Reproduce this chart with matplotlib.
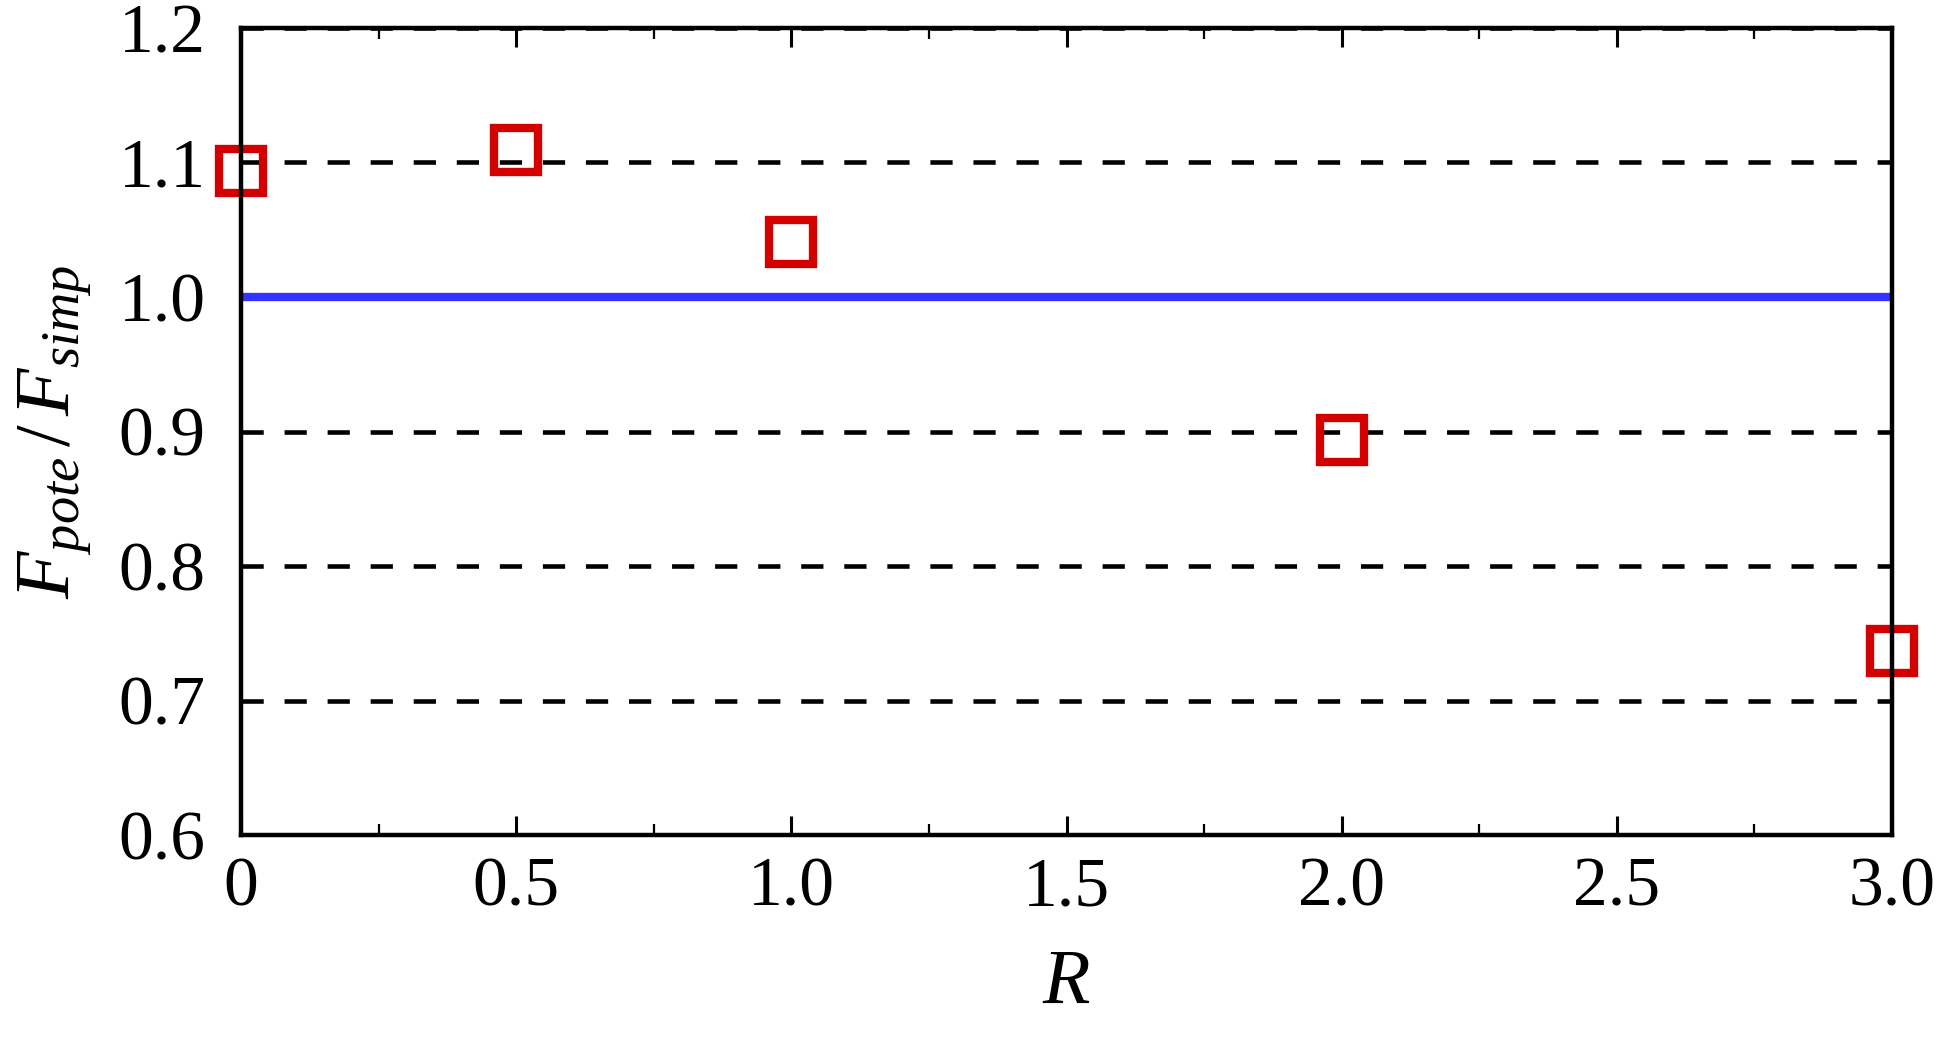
import matplotlib
matplotlib.use("Agg")
import matplotlib.pyplot as plt
from matplotlib.ticker import MultipleLocator, FixedLocator

# Data
R_values = [0.0, 0.5, 1.0, 2.0, 3.0]
ratio_values = [1.094, 1.109, 1.041, 0.894, 0.737]
ref_R = [0.0, 3.0]
ref_ratio = [1.0, 1.0]
grid_levels = [0.7, 0.8, 0.9, 1.0, 1.1, 1.2]
x_ticks = [0, 0.5, 1.0, 1.5, 2.0, 2.5, 3.0]
x_ticklabels = ["0", "0.5", "1.0", "1.5", "2.0", "2.5", "3.0"]
y_ticks = [0.6, 0.7, 0.8, 0.9, 1.0, 1.1, 1.2]
y_ticklabels = ["0.6", "0.7", "0.8", "0.9", "1.0", "1.1", "1.2"]

plt.rcParams['font.family'] = ['Liberation Serif', 'DejaVu Serif']
plt.rcParams['mathtext.fontset'] = 'custom'
plt.rcParams['mathtext.rm'] = 'Liberation Serif'
plt.rcParams['mathtext.it'] = 'Liberation Serif:italic'
plt.rcParams['lines.scale_dashes'] = False

fig = plt.figure(figsize=(19.37, 10.37), dpi=100)
ax = fig.add_axes([241/1937, 1 - 835/1037, (1892-241)/1937, (835-28)/1037])

for lv in grid_levels:
    ax.axhline(lv, color='black', lw=3.3, dashes=(16, 15), zorder=1)

ax.plot(ref_R, ref_ratio, color='#3333FF', lw=6, zorder=1.5, solid_capstyle='butt')

ax.plot(R_values, ratio_values, linestyle='none', marker='s', markersize=31,
        markerfacecolor='none', markeredgecolor='#D40000', markeredgewidth=6,
        clip_on=False, zorder=2)

ax.set_xlim(0, 3.0)
ax.set_ylim(0.6, 1.2)

ax.xaxis.set_major_locator(FixedLocator(x_ticks))
ax.set_xticklabels(x_ticklabels)
ax.xaxis.set_minor_locator(MultipleLocator(0.25))
ax.set_yticks(y_ticks)
ax.set_yticklabels(y_ticklabels)

ax.tick_params(axis='x', which='major', direction='in', top=True, bottom=True,
               length=14, width=2.2, labelsize=50, pad=16)
ax.tick_params(axis='x', which='minor', direction='in', top=True, bottom=True,
               length=8, width=1.6)
ax.tick_params(axis='y', which='both', left=False, right=False, labelsize=50, pad=22)

for sp in ax.spines.values():
    sp.set_linewidth(3.2)
    sp.set_zorder(3)

ax.set_xlabel(r'$R$', fontsize=56, labelpad=20)
ax.set_ylabel(r'$F_{pote}\,/\,F_{simp}$', fontsize=56, labelpad=18)

fig.savefig('out.png', dpi=100)
